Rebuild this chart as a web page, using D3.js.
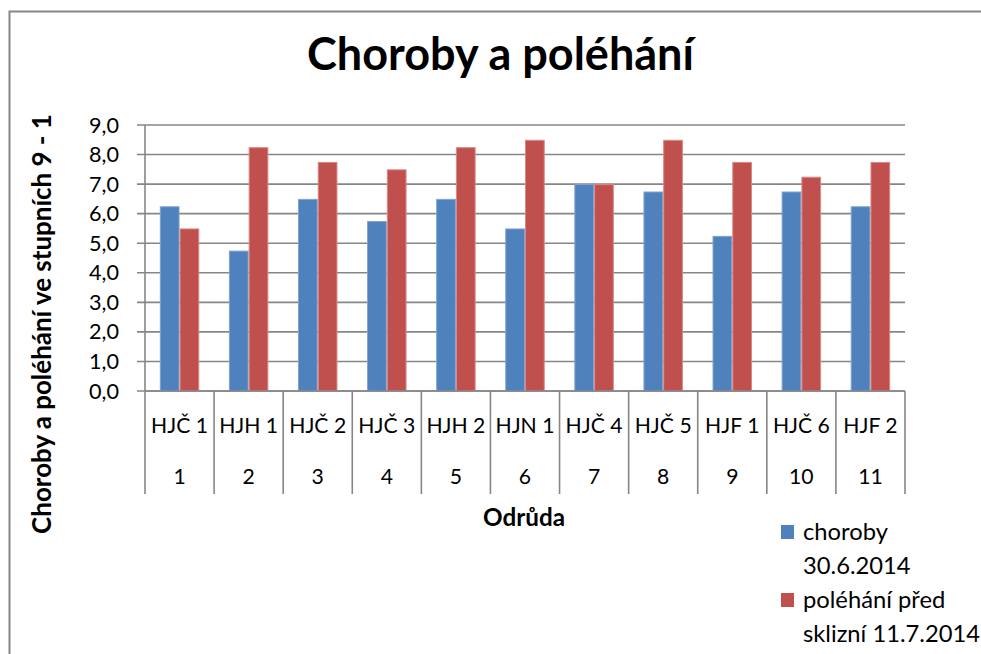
<!DOCTYPE html>
<html>
<head>
<meta charset="utf-8">
<script src="https://cdn.jsdelivr.net/npm/d3@7"></script>
<style>
html,body{margin:0;padding:0;background:#fff;}
svg{display:block;font-family:Lato,"Open Sans","Noto Sans",sans-serif;}
</style>
</head>
<body>
<svg id="chart" width="981" height="654"></svg>
<script>
const title = "Choroby a poléhání";
const yTitle = "Choroby a poléhání ve stupních 9 - 1";
const xTitle = "Odrůda";
const varieties = ["HJČ 1","HJH 1","HJČ 2","HJČ 3","HJH 2","HJN 1","HJČ 4","HJČ 5","HJF 1","HJČ 6","HJF 2"];
const numbers = ["1","2","3","4","5","6","7","8","9","10","11"];
const seriesNames = [["choroby","30.6.2014"],["poléhání před","sklizní 11.7.2014"]];
const choroby = [6.25,4.75,6.5,5.75,6.5,5.5,7.0,6.75,5.25,6.75,6.25];
const polehani = [5.5,8.25,7.75,7.5,8.25,8.5,7.0,8.5,7.75,7.25,7.75];
const yTicks = [0,1,2,3,4,5,6,7,8,9];

const colors = ["#4F81BD","#C0504D"];
const strokes = ["#7fa3d1","#d98a88"];
const gridColor = "#868686";

const svg = d3.select("#chart");
const pLeft = 145, pRight = 905, pTop = 125, pBottom = 391;

// font-size fitting helper: size so that sample text has the target width
function fitSize(sample, target, weight){
  const t = svg.append("text").attr("font-size",20).attr("font-weight",weight||"normal").text(sample);
  const w = t.node().getComputedTextLength();
  t.remove();
  return 20*target/w;
}
const fsTick = fitSize("9,0",30);
const fsCat = fitSize("HJČ 1",57);
const fsTitle = fitSize(title,387,"bold");
const fsXT = fitSize(xTitle,82,"bold");
const fsYT = fitSize(yTitle,420,"bold");
const fsLeg = fitSize("sklizní 11.7.2014",177);

// border
svg.append("rect").attr("x",9.5).attr("y",11.5).attr("width",1000).attr("height",700)
  .attr("fill","#fff").attr("stroke",gridColor).attr("stroke-width",2);

const x = d3.scaleBand().domain(d3.range(varieties.length)).range([pLeft,pRight]).padding(0);
const y = d3.scaleLinear().domain([0,9]).range([pBottom,pTop]);

// gridlines
svg.append("g").selectAll("line").data(yTicks).join("line")
  .attr("x1",pLeft-8).attr("x2",pRight)
  .attr("y1",d=>y(d)).attr("y2",d=>y(d))
  .attr("stroke",gridColor).attr("stroke-width",1.6);

// y axis line
svg.append("line").attr("x1",pLeft).attr("x2",pLeft).attr("y1",pTop).attr("y2",pBottom)
  .attr("stroke",gridColor).attr("stroke-width",1.6);

// y tick labels
svg.append("g").selectAll("text").data(yTicks).join("text")
  .attr("x",119).attr("y",d=>y(d)).attr("dy","0.35em")
  .attr("text-anchor","end").attr("font-size",fsTick).attr("fill","#000")
  .text(d=>d.toFixed(1).replace(".",","));

// bars
const bw = x.bandwidth()/3.5;
const series = [choroby, polehani];
series.forEach((vals,si)=>{
  svg.append("g").selectAll("rect").data(vals).join("rect")
    .attr("x",(d,i)=>x(i)+0.75*bw+si*bw+0.5)
    .attr("width",bw-1)
    .attr("y",d=>y(d)+0.5)
    .attr("height",d=>y(0)-y(d)-0.5)
    .attr("fill",colors[si]).attr("stroke",strokes[si]).attr("stroke-width",1);
});

// category separators
const bounds = d3.range(varieties.length+1).map(i=> i<varieties.length ? x(i) : pRight);
svg.append("g").selectAll("line").data(bounds).join("line")
  .attr("x1",d=>d).attr("x2",d=>d).attr("y1",pBottom).attr("y2",494)
  .attr("stroke",gridColor).attr("stroke-width",1.6);
svg.append("line").attr("x1",pLeft).attr("x2",pRight).attr("y1",pBottom).attr("y2",pBottom)
  .attr("stroke",gridColor).attr("stroke-width",1.6);

// category labels
svg.append("g").selectAll("text").data(varieties).join("text")
  .attr("x",(d,i)=>x(i)+x.bandwidth()/2).attr("y",426).attr("dy","0.35em")
  .attr("text-anchor","middle").attr("font-size",fsCat).attr("fill","#000").text(d=>d);
svg.append("g").selectAll("text").data(numbers).join("text")
  .attr("x",(d,i)=>x(i)+x.bandwidth()/2).attr("y",477).attr("dy","0.35em")
  .attr("text-anchor","middle").attr("font-size",fsCat).attr("fill","#000").text(d=>d);

// title
svg.append("text").attr("x",500.5).attr("y",70).attr("text-anchor","middle")
  .attr("font-size",fsTitle).attr("font-weight","bold").attr("fill","#000").text(title);

// x title
svg.append("text").attr("x",524).attr("y",518).attr("dy","0.35em").attr("text-anchor","middle")
  .attr("font-size",fsXT).attr("font-weight","bold").attr("fill","#000").text(xTitle);

// y title
svg.append("text").attr("transform","translate(42,324) rotate(-90)").attr("dy","0.35em")
  .attr("text-anchor","middle").attr("font-size",fsYT).attr("font-weight","bold").attr("fill","#000").text(yTitle);

// legend
const legY = [525, 593];
seriesNames.forEach((lines,si)=>{
  svg.append("rect").attr("x",781).attr("y",legY[si]).attr("width",13).attr("height",14)
    .attr("fill",colors[si]);
  lines.forEach((t,li)=>{
    svg.append("text").attr("x",803).attr("y",legY[si]+7+li*34).attr("dy","0.35em")
      .attr("font-size",fsLeg).attr("fill","#000").text(t);
  });
});
</script>
</body>
</html>
